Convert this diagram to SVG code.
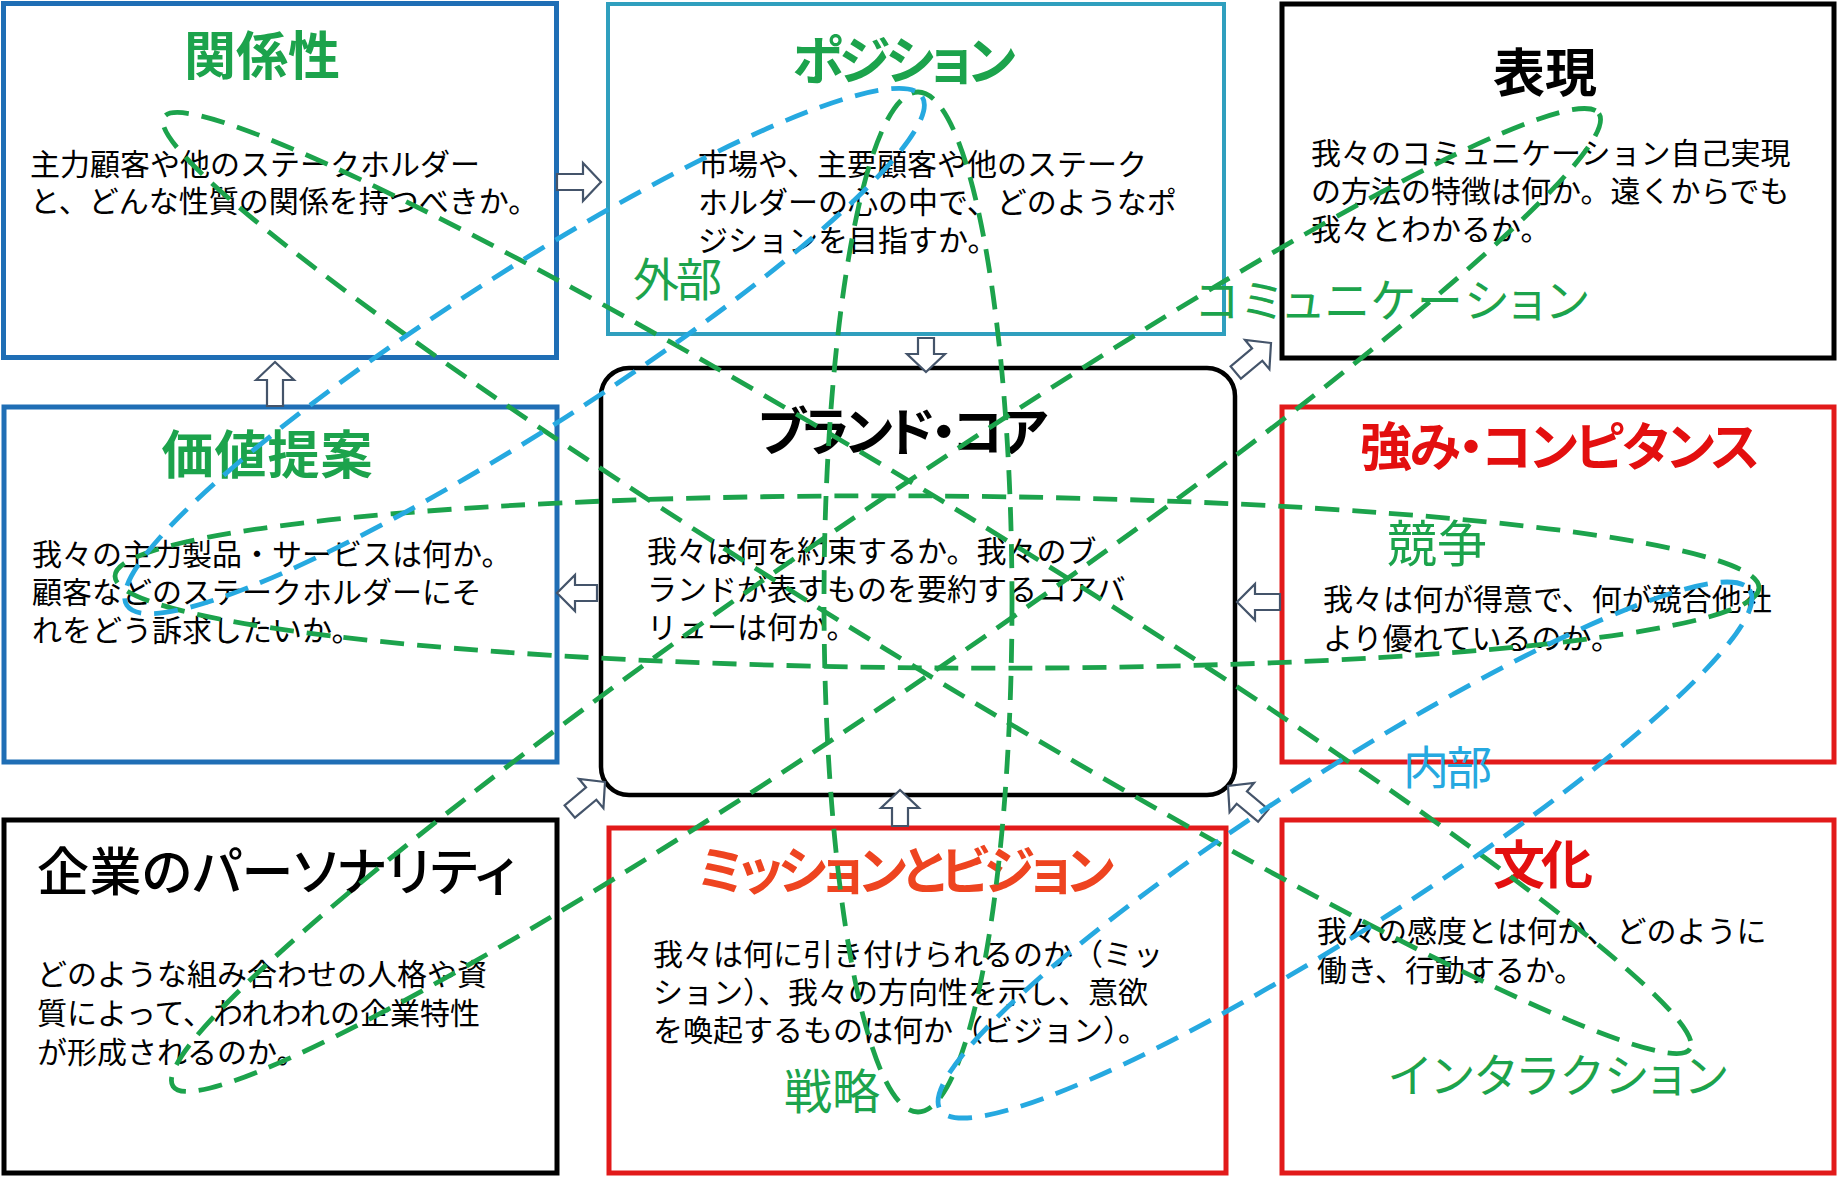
<svg xmlns="http://www.w3.org/2000/svg" width="1838" height="1178" viewBox="0 0 1838 1178">
<style>
text{font-family:"Noto Sans CJK JP","Noto Sans",sans-serif;}
.box{fill:#fff;stroke-width:5;}
.bl{stroke:#1F6EB5;}
.tl{stroke:#2F9FBE;stroke-width:4;}
.bk{stroke:#000;}
.rd{stroke:#E21A1A;}
.body{font-size:30px;fill:#000;}
.title{font-size:52px;font-weight:700;text-anchor:middle;font-feature-settings:"palt" 1;}
.g{fill:#1CA34C;}
.r{fill:#E30F0F;}
.o{fill:#EE4420;}
.k{fill:#000;}
.lab{font-size:46px;font-feature-settings:"palt" 1;}
.arr{fill:#fff;stroke:#44546A;stroke-width:2.2;stroke-linejoin:miter;}
.loop{fill:none;stroke-width:4.8;stroke-dasharray:24 13;}
.lg{stroke:#1CA34C;}
.lb{stroke:#26A9E0;}
</style>
<rect width="1838" height="1178" fill="#fff"/>

<g id="node-kankeisei">
<rect class="box bl" x="3.5" y="3.5" width="553" height="354"/>
<text class="title g" x="262" y="75" textLength="156">関係性</text>
<text class="body" x="30" y="175">主力顧客や他のステークホルダー</text>
<text class="body" x="30" y="212">と、どんな性質の関係を持つべきか。</text>
</g>

<g id="node-position">
<rect class="box tl" x="608" y="4" width="616" height="330"/>
<text class="title g" x="904" y="80" textLength="224">ポジション</text>
<text class="body" x="698" y="175">市場や、主要顧客や他のステーク</text>
<text class="body" x="698" y="213">ホルダーの心の中で、どのようなポ</text>
<text class="body" x="698" y="251">ジションを目指すか。</text>
</g>

<g id="node-hyogen">
<rect class="box bk" x="1282" y="4" width="552" height="354"/>
<text class="title k" x="1545" y="92" textLength="104">表現</text>
<text class="body" x="1311" y="164">我々のコミュニケーション自己実現</text>
<text class="body" x="1311" y="202">の方法の特徴は何か。遠くからでも</text>
<text class="body" x="1311" y="240">我々とわかるか。</text>
</g>

<g id="node-kachi">
<rect class="box bl" x="4" y="407" width="553" height="355"/>
<text class="title g" x="267" y="474" textLength="211">価値提案</text>
<text class="body" x="32" y="565">我々の主力製品・サービスは何か。</text>
<text class="body" x="32" y="603">顧客などのステークホルダーにそ</text>
<text class="body" x="32" y="641">れをどう訴求したいか。</text>
</g>

<g id="node-core">
<rect class="box bk" x="601" y="368" width="634" height="427" rx="28" ry="28" style="stroke-width:4.5"/>
<text class="title k" x="903" y="451" textLength="290">ブランド・コア</text>
<text class="body" x="647" y="562">我々は何を約束するか。我々のブ</text>
<text class="body" x="647" y="600">ランドが表すものを要約するコアバ</text>
<text class="body" x="647" y="638">リューは何か。</text>
</g>

<g id="node-tsuyomi">
<rect class="box rd" x="1282" y="407" width="552" height="355"/>
<text class="title r" x="1560" y="466" textLength="400">強み・コンピタンス</text>
<text class="body" x="1323" y="610">我々は何が得意で、何が競合他社</text>
<text class="body" x="1323" y="649">より優れているのか。</text>
</g>

<g id="node-kigyo">
<rect class="box bk" x="4" y="820" width="553" height="353"/>
<text class="k" x="37" y="891" style="font-size:52px;font-weight:500;font-feature-settings:'palt' 1" textLength="478">企業のパーソナリティ</text>
<text class="body" x="37" y="985">どのような組み合わせの人格や資</text>
<text class="body" x="37" y="1024">質によって、われわれの企業特性</text>
<text class="body" x="37" y="1063">が形成されるのか。</text>
</g>

<g id="node-mission">
<rect class="box rd" x="609" y="828" width="617" height="345"/>
<text class="title o" x="906" y="890" textLength="417">ミッションとビジョン</text>
<text class="body" x="653" y="965">我々は何に引き付けられるのか（ミッ</text>
<text class="body" x="653" y="1003">ション）、我々の方向性を示し、意欲</text>
<text class="body" x="653" y="1041">を喚起するものは何か（ビジョン）。</text>
</g>

<g id="node-bunka">
<rect class="box rd" x="1282" y="820" width="552" height="353"/>
<text class="title r" x="1543" y="884" textLength="100">文化</text>
<text class="body" x="1317" y="942">我々の感度とは何か、どのように</text>
<text class="body" x="1317" y="981">働き、行動するか。</text>
</g>

<g id="connectors">
<path class="arr" transform="translate(601,182)" d="M0,0 L-18,-19 L-18,-8 L-44,-8 L-44,8 L-18,8 L-18,19 Z"/>
<path class="arr" transform="translate(275,362) rotate(-90)" d="M0,0 L-18,-19 L-18,-8 L-44,-8 L-44,8 L-18,8 L-18,19 Z"/>
<path class="arr" transform="translate(926,372) rotate(90)" d="M0,0 L-18,-19 L-18,-8 L-34,-8 L-34,8 L-18,8 L-18,19 Z"/>
<path class="arr" transform="translate(557,593) rotate(180)" d="M0,0 L-18,-18 L-18,-8 L-40,-8 L-40,8 L-18,8 L-18,18 Z"/>
<path class="arr" transform="translate(1237,602) rotate(180)" d="M0,0 L-18,-18 L-18,-8 L-43,-8 L-43,8 L-18,8 L-18,18 Z"/>
<path class="arr" transform="translate(900,790) rotate(-90)" d="M0,0 L-18,-19 L-18,-8 L-36,-8 L-36,8 L-18,8 L-18,19 Z"/>
<path class="arr" transform="translate(605,782) rotate(-40)" d="M0,0 L-18,-19 L-18,-8 L-46,-8 L-46,8 L-18,8 L-18,19 Z"/>
<path class="arr" transform="translate(1271,343) rotate(-40)" d="M0,0 L-18,-19 L-18,-8 L-46,-8 L-46,8 L-18,8 L-18,19 Z"/>
<path class="arr" transform="translate(1228,786) rotate(-140)" d="M0,0 L-18,-19 L-18,-8 L-46,-8 L-46,8 L-18,8 L-18,19 Z"/>
</g>

<g id="loop-labels">
<text class="lab g" x="633" y="296" textLength="89">外部</text>
<text class="lab g" x="1196" y="317" textLength="392">コミュニケーション</text>
<text class="lab g" x="1387" y="562" style="font-size:50px">競争</text>
<text class="lab" x="1403" y="784" textLength="89" fill="#26A9E0">内部</text>
<text class="lab g" x="784" y="1109" style="font-size:48px">戦略</text>
<text class="lab g" x="1389" y="1092" textLength="338">インタラクション</text>
</g>

<g id="loops">
<ellipse class="loop lg" cx="927" cy="583" rx="894" ry="78" transform="rotate(31.4 927 583)"/>
<ellipse class="loop lg" cx="918" cy="602" rx="94" ry="510"/>
<ellipse class="loop lg" cx="937" cy="582" rx="822" ry="86" transform="rotate(0.4 937 582)"/>
<ellipse class="loop lg" cx="886" cy="600" rx="863" ry="86" transform="rotate(-34.3 886 600)"/>
<ellipse class="loop lb" cx="524.5" cy="351" rx="472" ry="78" transform="rotate(-32.6 524.5 351)"/>
<ellipse class="loop lb" cx="1345" cy="850" rx="481" ry="78" transform="rotate(-32.7 1345 850)"/>
</g>
</svg>
